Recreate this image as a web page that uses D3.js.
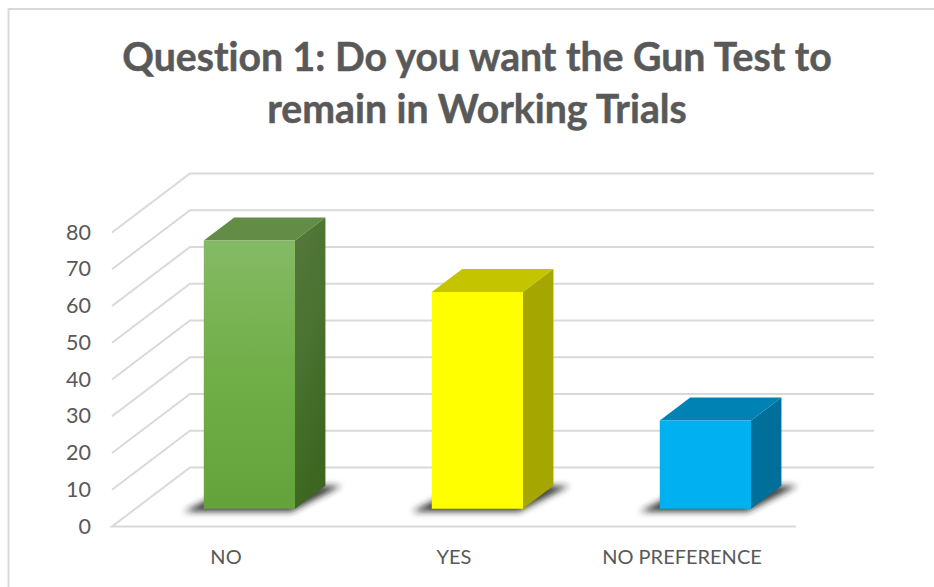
<!DOCTYPE html>
<html>
<head>
<meta charset="utf-8">
<script src="https://cdnjs.cloudflare.com/ajax/libs/d3/7.8.5/d3.min.js"></script>
<style>
html, body { margin: 0; padding: 0; background: #fff; }
svg { display: block; }
text { font-family: Lato, "Open Sans", sans-serif; fill: #595959; font-variant-ligatures: none; }
</style>
</head>
<body>
<div id="chart"></div>
<script>
var categories = ["NO", "YES", "NO PREFERENCE"];
var values = [73, 59, 24];
var yTicks = [0, 10, 20, 30, 40, 50, 60, 70, 80];
var titleLines = ["Question 1: Do you want the Gun Test to", "remain in Working Trials"];
var frontColors = ["url(#greenFront)", "#ffff00", "#00b0f0"];
var topColors = ["#638c47", "#c4c400", "#0083b4"];
var sideColors = ["url(#greenSide)", "#a6a600", "#006f99"];

var width = 934, height = 587;

var svg = d3.select("#chart").append("svg")
	.attr("width", width)
	.attr("height", height);

var defs = svg.append("defs");

var addGradient = function(id, x2, y2, stops){
	var g = defs.append("linearGradient")
		.attr("id", id)
		.attr("x1", 0).attr("y1", 0)
		.attr("x2", x2).attr("y2", y2);
	stops.forEach(function(s){
		g.append("stop").attr("offset", s[0]).attr("stop-color", s[1]);
	});
};
addGradient("greenFront", 0, 1, [[0, "#85ba65"], [0.5, "#70ae47"], [1, "#64a33c"]]);
addGradient("greenSide", 0.3, 1, [[0, "#55783c"], [0.5, "#4a7230"], [1, "#3d6621"]]);

defs.append("filter")
	.attr("id", "shadowBlur")
	.attr("x", "-20%").attr("y", "-40%")
	.attr("width", "140%").attr("height", "180%")
	.append("feGaussianBlur")
	.attr("stdDeviation", 3);

// outer frame, only left and top are inside the picture
svg.append("path")
	.attr("d", d3.line()([[8.5, height], [8.5, 9], [width, 9]]))
	.attr("fill", "none")
	.attr("stroke", "#d9d9d9")
	.attr("stroke-width", 2);

svg.selectAll("text.title")
	.data(titleLines)
	.enter().append("text")
	.attr("class", "title")
	.attr("x", 477)
	.attr("y", function(d, i){ return 71 + i * 52; })
	.attr("text-anchor", "middle")
	.attr("font-size", 39.2)
	.attr("font-weight", 700)
	.attr("stroke", "#595959")
	.attr("stroke-width", 0.5)
	.text(function(d){ return d; });

// scales: x along the floor, y up the wall, depth runs into the picture
var x = d3.scaleBand().domain(categories).range([112, 796]).paddingInner(0.6).paddingOuter(0.3);
var y = d3.scaleLinear().domain([0, 80]).range([526.5, 232.5]);
var depthX = d3.scaleLinear().domain([0, 1]).range([0, 78]);
var depthY = d3.scaleLinear().domain([0, 1]).range([0, -59]);

// screen position of a point at plot x px, value v, depth d
var project = function(px, v, d){
	return [px + depthX(d), y(v) + depthY(d)];
};

var polygon = function(points){
	return d3.line()(points) + "Z";
};

var x0 = x.range()[0], x1 = x.range()[1];
var gridColor = "#d9d9d9";

var grid = svg.append("g").attr("fill", "none").attr("stroke", gridColor).attr("stroke-width", 2);
yTicks.forEach(function(t){
	var pts = [project(x0, t, 0), project(x0, t, 1), project(x1, t, 1)];
	if(t === 0){
		// the floor also has its front edge
		grid.append("path").attr("d", d3.line()([project(x1, t, 0), project(x0, t, 0), project(x0, t, 1), project(x1, t, 1)]));
	}else{
		grid.append("path").attr("d", d3.line()(pts));
	}
});

svg.selectAll("text.ytick")
	.data(yTicks)
	.enter().append("text")
	.attr("class", "ytick")
	.attr("x", 91)
	.attr("y", function(d){ return y(d) + 7; })
	.attr("text-anchor", "end")
	.attr("font-size", 21.5)
	.text(function(d){ return d; });

svg.selectAll("text.xlabel")
	.data(categories)
	.enter().append("text")
	.attr("class", "xlabel")
	.attr("x", function(d){ return x(d) + x.bandwidth() / 2; })
	.attr("y", 564)
	.attr("text-anchor", "middle")
	.attr("font-size", 20)
	.text(function(d){ return d; });

var zFront = 0.3, zBack = 0.69;

categories.forEach(function(cat, i){
	var left = x(cat), right = left + x.bandwidth(), v = values[i];
	var bar = svg.append("g").attr("class", "bar");

	// soft floor shadow, pushed out past the base of the bar
	bar.append("path")
		.attr("d", polygon([
			project(left - 16, 0, zFront - 0.05),
			project(right, 0, zFront - 0.05),
			project(right + 16, 0, zBack),
			project(left, 0, zBack)
		]))
		.attr("fill", "#222222")
		.attr("fill-opacity", 0.85)
		.attr("filter", "url(#shadowBlur)");

	bar.append("path")
		.attr("d", polygon([project(left, v, zFront), project(left, v, zBack), project(right, v, zBack), project(right, v, zFront)]))
		.attr("fill", topColors[i]);
	bar.append("path")
		.attr("d", polygon([project(right, 0, zFront), project(right, v, zFront), project(right, v, zBack), project(right, 0, zBack)]))
		.attr("fill", sideColors[i]);
	bar.append("path")
		.attr("d", polygon([project(left, 0, zFront), project(left, v, zFront), project(right, v, zFront), project(right, 0, zFront)]))
		.attr("fill", frontColors[i]);
});
</script>
</body>
</html>
